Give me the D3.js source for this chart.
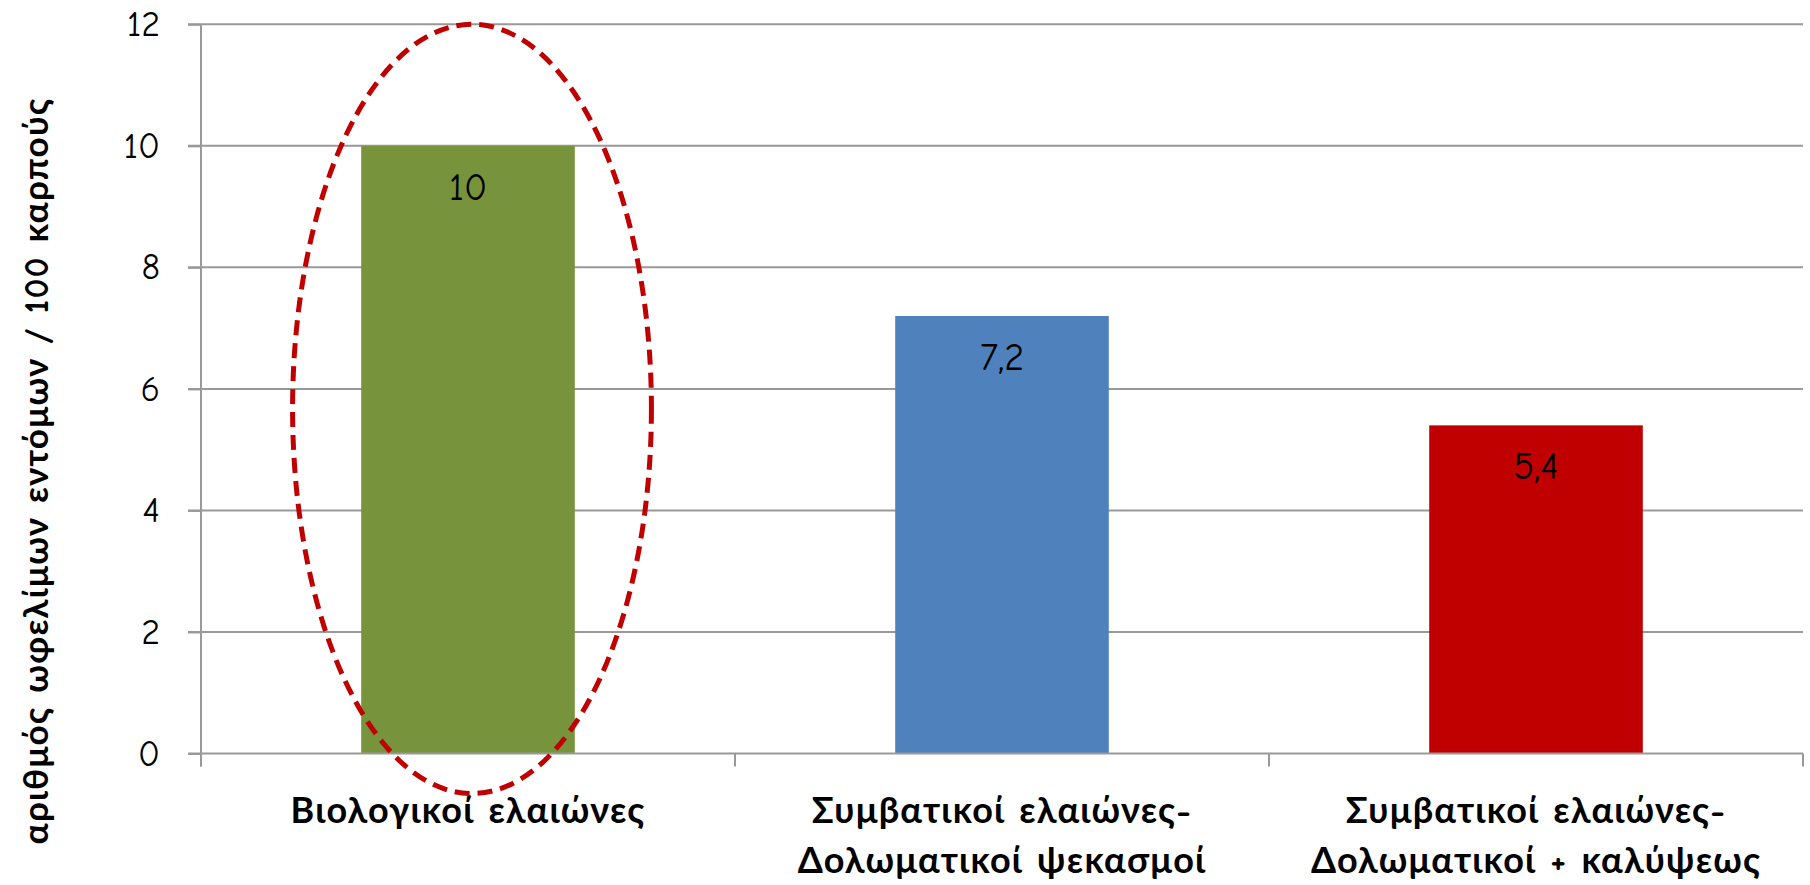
<html>
<script src="https://d3js.org/d3.v7.min.js"></script>
<style>
  body { margin: 0; background: white; }
  text { font-family: "Comic Sans MS", "Comic Neue", Lato, "Noto Sans", sans-serif; fill: black; }
</style>
<body>
<svg width=1810 height=885></svg>
<script>
var categories = [
  ["Βιολογικοί ελαιώνες"],
  ["Συμβατικοί ελαιώνες-", "Δολωματικοί ψεκασμοί"],
  ["Συμβατικοί ελαιώνες-", "Δολωματικοί + καλύψεως"]
];
var values = [10, 7.2, 5.4];
var valueLabels = ["10", "7,2", "5,4"];
var barColors = ["#77933C", "#4F81BD", "#C00000"];
var yTicks = [0, 2, 4, 6, 8, 10, 12];
var yTitle = "αριθμός ωφελίμων εντόμων / 100 καρπούς";

var svg = d3.select("svg");
var plotLeft = 201, plotRight = 1803, plotTop = 24.3, plotBottom = 753.5;

var x = d3.scaleBand().domain(d3.range(categories.length)).range([plotLeft, plotRight])
  .paddingInner(0.6).paddingOuter(0.3);
var y = d3.scaleLinear().domain([0, 12]).range([plotBottom, plotTop]);
var step = x.step();

// gridlines
svg.append("g").selectAll("line").data(yTicks.filter(function(d) { return d > 0; })).enter().append("line")
  .attr("x1", plotLeft - 13).attr("x2", plotRight)
  .attr("y1", function(d) { return y(d); }).attr("y2", function(d) { return y(d); })
  .attr("stroke", "#999").attr("stroke-width", 2);

// bars
svg.append("g").selectAll("rect").data(values).enter().append("rect")
  .attr("x", function(d, i) { return x(i); })
  .attr("y", function(d) { return y(d); })
  .attr("width", x.bandwidth())
  .attr("height", function(d) { return y(0) - y(d); })
  .attr("fill", function(d, i) { return barColors[i]; });

// value labels
svg.append("g").selectAll("text").data(values).enter().append("text")
  .attr("x", function(d, i) { return x(i) + x.bandwidth() / 2; })
  .attr("y", function(d) { return y(d) + 54; })
  .attr("text-anchor", "middle")
  .style("font-size", "38px")
  .text(function(d, i) { return valueLabels[i]; });

// y axis
var yAxis = svg.append("g").attr("transform", "translate(" + plotLeft + ",0)")
  .call(d3.axisLeft(y).tickValues(yTicks).tickSize(13).tickPadding(28).tickFormat(d3.format("d")));
yAxis.select(".domain").attr("stroke", "#999").attr("stroke-width", 2).attr("d", "M0," + plotTop + "V" + (plotBottom + 13));
yAxis.selectAll(".tick line").attr("stroke", "#999").attr("stroke-width", 2);
yAxis.selectAll(".tick text").style("font-size", "36px").attr("fill", "black");

// x axis
svg.append("line").attr("x1", plotLeft - 13).attr("x2", plotRight).attr("y1", plotBottom).attr("y2", plotBottom)
  .attr("stroke", "#999").attr("stroke-width", 2);
svg.append("g").selectAll("line").data(d3.range(categories.length + 1)).enter().append("line")
  .attr("x1", function(d) { return plotLeft + d * step; }).attr("x2", function(d) { return plotLeft + d * step; })
  .attr("y1", plotBottom).attr("y2", plotBottom + 13)
  .attr("stroke", "#999").attr("stroke-width", 2);

// category labels
var cat = svg.append("g").selectAll("text").data(categories).enter().append("text")
  .attr("x", function(d, i) { return x(i) + x.bandwidth() / 2; })
  .attr("y", 823)
  .attr("text-anchor", "middle")
  .style("font-size", "36px").style("font-weight", "bold").style("letter-spacing", "1.2px");
cat.selectAll("tspan").data(function(d) { return d; }).enter().append("tspan")
  .attr("x", function() { return d3.select(this.parentNode).attr("x"); })
  .attr("dy", function(d, i) { return i == 0 ? 0 : 50; })
  .text(function(d) { return d; });

// y title
svg.append("text")
  .attr("transform", "translate(48,471) rotate(-90)")
  .attr("text-anchor", "middle")
  .style("font-size", "35px").style("font-weight", "bold").style("letter-spacing", "1.2px")
  .text(yTitle);

// dashed ellipse round the first bar
svg.append("ellipse")
  .attr("cx", x(0) + x.bandwidth() / 2 + 4)
  .attr("cy", (y(12) + plotBottom + 40) / 2)
  .attr("rx", x.bandwidth() * 0.84)
  .attr("ry", (plotBottom + 40 - y(12)) / 2)
  .attr("fill", "none").attr("stroke", "#C00000")
  .attr("stroke-width", 5).attr("stroke-dasharray", "15,8");
</script>
</body>
</html>
